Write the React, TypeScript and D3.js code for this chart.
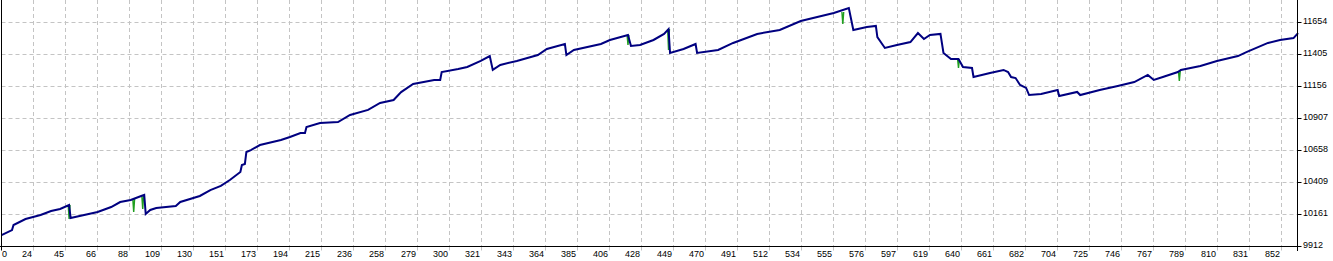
import React from "react";
import * as d3 from "d3";

const W = 1333;
const H = 261;

// X axis tick labels (trade numbers)
const xTickLabels = ["0","24","45","66","88","109","130","151","173","194","215","236","258","279","300","321","343","364","385","406","428","449","470","491","512","534","555","576","597","619","640","661","682","704","725","746","767","789","810","831","852"];
// Y axis tick labels (balance)
const yTickValues = [9912, 10161, 10409, 10658, 10907, 11156, 11405, 11654];

// Balance curve: trade index and balance
const tradeIndex = [0,7,8,16,21,26,33,39,45,46,64,73,79,86,93,95,96,99,103,116,119,132,139,146,152,159,160,162,163,166,172,186,192,199,202,203,212,224,232,244,252,261,266,274,288,292,293,304,310,319,325,327,332,343,357,363,375,376,381,399,405,417,419,425,434,441,444,445,454,462,463,477,487,503,518,532,554,564,567,576,582,583,588,596,605,610,614,618,625,627,632,637,640,646,647,658,667,670,672,675,678,682,684,692,703,704,716,718,731,743,754,763,767,773,783,785,798,809,823,829,843,851,860,863];
const balance = [10001,10040,10079,10126,10141,10157,10188,10204,10235,10134,10180,10219,10258,10274,10305,10313,10165,10196,10211,10227,10258,10305,10351,10383,10429,10491,10546,10554,10647,10662,10701,10740,10764,10795,10795,10841,10872,10880,10935,10974,11028,11051,11113,11176,11207,11207,11269,11292,11308,11355,11393,11285,11324,11355,11401,11448,11487,11401,11440,11487,11518,11557,11471,11479,11518,11565,11603,11417,11448,11487,11417,11440,11495,11565,11596,11666,11728,11767,11596,11619,11627,11541,11456,11479,11502,11572,11526,11557,11565,11417,11370,11370,11308,11300,11230,11261,11285,11269,11230,11222,11168,11145,11090,11098,11129,11082,11114,11090,11129,11160,11191,11246,11207,11230,11269,11285,11316,11355,11393,11425,11495,11518,11533,11572];

// Equity dips (green): trade index, equity before, equity low
const dipIndex = [45, 88, 94, 417, 444, 560, 637, 784];
const dipHigh = [10235, 10281, 10309, 11557, 11603, 11736, 11370, 11277];
const dipLow = [10126, 10180, 10204, 11479, 11440, 11642, 11300, 11199];

export default function App() {
  const x = d3.scaleLinear().domain([0, 852]).range([1.5, 1281.5]);
  const y = d3.scaleLinear().domain([9912, 11654]).range([246.5, 22.5]);
  const right = 1297.5;
  const bottom = 246.5;

  const pts: [number, number][] = tradeIndex.map((t, i) => [t, balance[i]]);
  const line = d3
    .line<[number, number]>()
    .x((d) => x(d[0]))
    .y((d) => y(d[1]));

  const dipPaths = dipIndex.map((t, i) =>
    line([
      [t - 0.6, dipHigh[i]],
      [t, dipLow[i]],
      [t + 0.6, dipHigh[i]],
    ])
  );

  const font = "'Liberation Sans', Arial, sans-serif";
  const gridColor = "#c4c4c4";

  return (
    <div style={{ position: "absolute", left: 0, top: 0 }}>
      <svg width={W} height={H} style={{ display: "block", background: "#fff" }}>
        {/* vertical grid */}
        {xTickLabels.map((lab, k) => {
          const gx = Math.round(x((k * 852) / 40) - 0.5) + 0.5;
          return (
            <g key={"vx" + k}>
              {k > 0 && (
                <line x1={gx} x2={gx} y1={0} y2={bottom} stroke={gridColor} strokeDasharray="4,3" strokeWidth={1} />
              )}
              <line x1={gx} x2={gx} y1={bottom} y2={bottom + 4} stroke={k > 0 ? gridColor : "#000"} strokeWidth={1} />
              <text
                x={k === 0 ? 2 : gx - 1.5}
                y={257}
                fontSize={9}
                fontFamily={font}
                textAnchor={k === 0 ? "start" : "end"}
                fill="#000"
              >
                {lab}
              </text>
            </g>
          );
        })}
        {/* horizontal grid */}
        {yTickValues.map((v, k) => {
          const gy = Math.round(y(v) - 0.5) + 0.5;
          return (
            <g key={"hy" + k}>
              {k > 0 && (
                <line x1={1.5} x2={right} y1={gy} y2={gy} stroke={gridColor} strokeDasharray="4,3" strokeWidth={1} />
              )}
              <line x1={right} x2={right + 4} y1={gy} y2={gy} stroke="#000" strokeWidth={1} />
              <text x={1303} y={gy + 1.5} fontSize={9} fontFamily={font} fill="#000">
                {v}
              </text>
            </g>
          );
        })}
        {/* equity dips */}
        {dipPaths.map((d, i) => (
          <path key={"dip" + i} d={d || ""} fill="none" stroke="#1f9e1f" strokeWidth={1.4} />
        ))}
        {/* balance line */}
        <path d={line(pts) || ""} fill="none" stroke="#000080" strokeWidth={2} strokeLinejoin="miter" />
        {/* axes */}
        <line x1={1.5} x2={1.5} y1={0} y2={bottom} stroke="#000" strokeWidth={1} />
        <line x1={0} x2={right} y1={bottom} y2={bottom} stroke="#000" strokeWidth={1} />
        <line x1={right} x2={right} y1={0} y2={251} stroke="#000" strokeWidth={1} />
      </svg>
    </div>
  );
}
